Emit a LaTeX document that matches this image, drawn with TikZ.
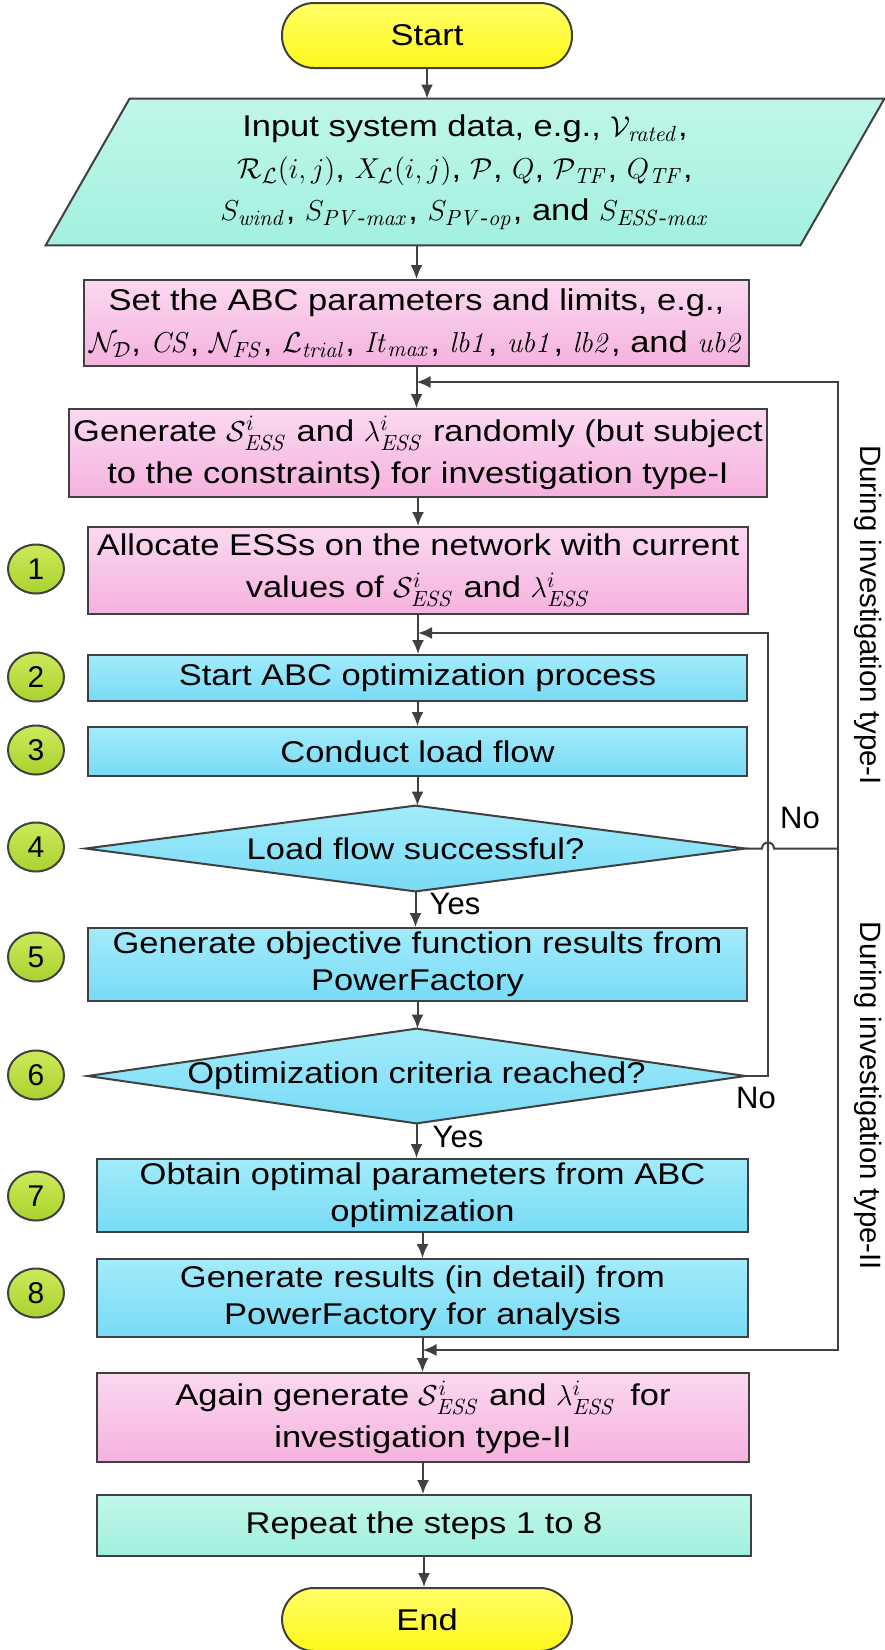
\documentclass[tikz,border=0pt]{standalone}
\usepackage{amsmath}
\usepackage[no-math]{fontspec}
\setmainfont{Liberation Sans}
\newfontfamily\boxfont{Liberation Sans}[FakeStretch=1.15]
\usetikzlibrary{positioning,shapes.geometric,backgrounds,arrows.meta}
\definecolor{edge}{HTML}{404040}
\definecolor{pinktop}{HTML}{FBD8F0}
\definecolor{pinkbot}{HTML}{F5B2DE}
\definecolor{bluetop}{HTML}{A2EBFB}
\definecolor{bluebot}{HTML}{78DBF5}
\definecolor{minttop}{HTML}{C0F7EA}
\definecolor{mintbot}{HTML}{A2F0DE}
\definecolor{yeltop}{HTML}{FFFF66}
\definecolor{yelbot}{HTML}{FFF71A}
\definecolor{limetop}{HTML}{CCEA5A}
\definecolor{limebot}{HTML}{A9D22E}

\begin{document}
\begin{tikzpicture}[x=0.5pt,y=-0.5pt,>={Latex[length=7pt,width=6pt]},
  conn/.style={draw=edge,line width=1pt},
  arr/.style={conn,->},
  box/.style={draw=edge,line width=1pt,align=center,inner sep=2pt,font=\boxfont\fontsize{15pt}{18.5pt}\selectfont},
  pinkbox/.style={box,top color=pinktop,bottom color=pinkbot},
  bluebox/.style={box,top color=bluetop,bottom color=bluebot},
  mintbox/.style={box,top color=minttop,bottom color=mintbot},
  term/.style={box,rounded corners=16pt,top color=yeltop,bottom color=yelbot,minimum width=145pt},
  num/.style={ellipse,draw=edge,line width=1pt,top color=limetop,bottom color=limebot,minimum width=28pt,minimum height=24.5pt,inner sep=0pt,font=\fontsize{15pt}{18pt}\selectfont},
  dia/.style={align=center,inner sep=0pt,font=\boxfont\fontsize{15pt}{18pt}\selectfont},
  mathrows/.style={font=\boxfont\fontsize{15pt}{21pt}\selectfont},
  lbl/.style={inner sep=0pt,font=\fontsize{15.5pt}{18pt}\selectfont},
  side/.style={rotate=-90,inner sep=0pt,font=\fontsize{14.7pt}{18pt}\selectfont}]
\useasboundingbox (0,0) rectangle (884,1650);

% main column
\node[term,minimum height=32.5pt] (start) at (427,35.5) {Start};
\node[dia,mathrows,minimum width=377pt,minimum height=73pt] (inp) at (465,172) {Input system data, e.g., $\mathcal{V}_{\mathit{rated}}$,\\
  $\mathcal{R}_{\mathcal{L}}(i,j)$, $X_{\mathcal{L}}(i,j)$, $\mathcal{P}$, $Q$, $\mathcal{P}_{\mathit{TF}}$, $Q_{\mathit{TF}}$,\\
  $S_{\mathit{wind}}$, $S_{\mathit{PV}\text{-}\mathit{max}}$, $S_{\mathit{PV}\text{-}\mathit{op}}$, and $S_{\mathit{ESS}\text{-}\mathit{max}}$};
\node[pinkbox,mathrows,minimum width=332.5pt,minimum height=43pt] (set) at (416.5,323) {Set the ABC parameters and limits, e.g.,\\
  $\mathcal{N}_{\mathcal{D}}$, $\mathit{CS}$, $\mathcal{N}_{\mathit{FS}}$, $\mathcal{L}_{\mathit{trial}}$, $\mathit{It}_{\mathit{max}}$, $\mathit{lb1}$, $\mathit{ub1}$, $\mathit{lb2}$, and $\mathit{ub2}$};
\node[pinkbox,mathrows,minimum width=337pt,minimum height=44pt] (gen) at (418,453) {Generate $\mathcal{S}^{i}_{\mathit{ESS}}$ and $\lambda^{i}_{\mathit{ESS}}$ randomly (but subject\\to the constraints) for investigation type-I};
\node[pinkbox,mathrows,minimum width=330pt,minimum height=43.5pt] (alloc) at (418,570.5) {Allocate ESSs on the network with current\\values of $\mathcal{S}^{i}_{\mathit{ESS}}$ and $\lambda^{i}_{\mathit{ESS}}$};
\node[bluebox,minimum width=329.5pt,minimum height=23pt] (sabc) at (417.5,678) {Start ABC optimization process};
\node[bluebox,minimum width=329.5pt,minimum height=24.5pt] (cond) at (417.5,751.5) {Conduct load flow};
\node[dia,minimum width=329.5pt,minimum height=42.5pt] (d4) at (415.5,848.5) {Load flow successful?};
\node[bluebox,minimum width=329.5pt,minimum height=36.5pt] (obj) at (417.5,964.5) {Generate objective function results from\\PowerFactory};
\node[dia,minimum width=328.5pt,minimum height=47pt] (d6) at (416.5,1076) {Optimization criteria reached?};
\node[bluebox,minimum width=325.5pt,minimum height=35.5pt] (obt) at (422.5,1195.5) {Obtain optimal parameters from ABC\\optimization};
\node[bluebox,minimum width=325.5pt,minimum height=39pt] (res) at (422.5,1298) {Generate results (in detail) from\\PowerFactory for analysis};
\node[pinkbox,mathrows,minimum width=326pt,minimum height=44.5pt] (again) at (423,1417.5) {Again generate $\mathcal{S}^{i}_{\mathit{ESS}}$ and $\lambda^{i}_{\mathit{ESS}}$\, for\\investigation type-II};
\node[mintbox,minimum width=327pt,minimum height=30.5pt] (rep) at (424,1525.5) {Repeat the steps 1 to 8};
\node[term,minimum height=31.5pt] (end) at (427,1619.5) {End};

% step numbers
\node[num] (n1) at (36,569) {1};
\node[num] (n2) at (36,677) {2};
\node[num] (n3) at (36,750) {3};
\node[num] (n4) at (36,847) {4};
\node[num] (n5) at (36,957) {5};
\node[num] (n6) at (36,1075) {6};
\node[num] (n7) at (36,1196) {7};
\node[num] (n8) at (36,1293) {8};

% shapes behind the text nodes
\begin{scope}[on background layer]
\fill[white] (0,0) rectangle (884,1650);
\draw[conn,top color=minttop,bottom color=mintbot] ([xshift=21pt]inp.north west) -- ([xshift=21pt]inp.north east)
  -- ([xshift=-21pt]inp.south east) -- ([xshift=-21pt]inp.south west) -- cycle;
\draw[conn,top color=bluetop,bottom color=bluebot] (d4.west) -- (d4.north) -- (d4.east) -- (d4.south) -- cycle;
\draw[conn,top color=bluetop,bottom color=bluebot] (d6.west) -- (d6.north) -- (d6.east) -- (d6.south) -- cycle;
\end{scope}

% feedback points
\coordinate (fb1) at (set.south |- 0,382);
\coordinate (fb2) at (alloc.south |- 0,633);
\coordinate (fb3) at (res.south |- 0,1350);
\coordinate (rtx) at (838,0);
\coordinate (inx) at (768,0);

\draw[arr] (start.south) -- (start.south |- inp.north);
\draw[arr] (set.north |- inp.south) -- (set.north);
\draw[arr] (set.south) -- (set.south |- gen.north);
\draw[arr] (gen.south) -- (gen.south |- alloc.north);
\draw[arr] (alloc.south) -- (alloc.south |- sabc.north);
\draw[arr] (sabc.south) -- (sabc.south |- cond.north);
\draw[arr] (cond.south) -- (cond.south |- d4.north);
\draw[arr] (d4.south) -- (d4.south |- obj.north);
\draw[arr] (obj.south) -- (obj.south |- d6.north);
\draw[arr] (d6.south) -- (d6.south |- obt.north);
\draw[arr] (obt.south) -- (obt.south |- res.north);
\draw[arr] (res.south) -- (res.south |- again.north);
\draw[arr] (again.south) -- (again.south |- rep.north);
\draw[arr] (rep.south) -- (rep.south |- end.north);

% loops back
\draw[conn] (d4.east) -- ([xshift=-3pt]d4.east -| inx) arc[start angle=180,end angle=0,radius=3pt] -- (d4.east -| rtx);
\draw[arr] (d4.east -| rtx) -- (rtx |- fb1) -- (fb1);
\draw[arr] (d4.east -| rtx) -- (rtx |- fb3) -- (fb3);
\draw[arr] (d6.east) -- (d6.east -| inx) -- (inx |- fb2) -- (fb2);

% labels
\node[lbl] (yes4) at (455,904) {Yes};
\node[lbl] (yes6) at (458,1137) {Yes};
\node[lbl] (no4) at (800,818) {No};
\node[lbl] (no6) at (756,1098) {No};
\node[side] (t1) at (868,615) {During investigation type-I};
\node[side] (t2) at (868,1096) {During investigation type-II};
\end{tikzpicture}
\end{document}
